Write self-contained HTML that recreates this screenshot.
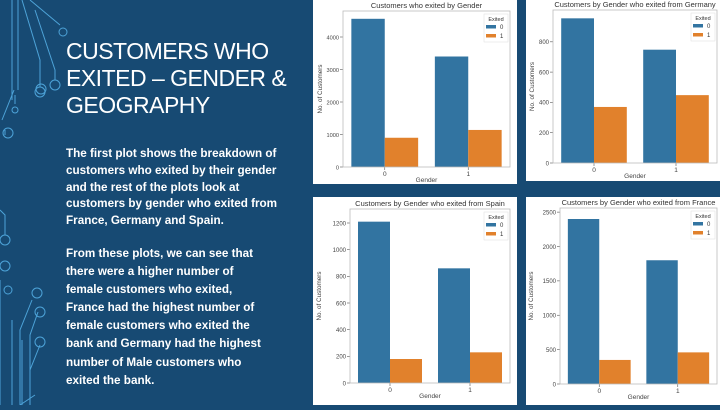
<!DOCTYPE html>
<html><head><meta charset="utf-8"><style>
body{margin:0;width:720px;height:405px;overflow:hidden;background:#174a73;font-family:"Liberation Sans",sans-serif;position:relative}
.title{position:absolute;left:66px;top:38px;color:#fff;font-size:23px;line-height:27px;white-space:nowrap;letter-spacing:-0.5px}
.body{position:absolute;left:66px;color:#fff;font-weight:bold;font-size:11.7px;white-space:nowrap}
.panel{position:absolute;background:#fff}
svg text{font-family:"Liberation Sans",sans-serif}
</style></head><body>
<svg width="70" height="405" style="position:absolute;left:0;top:0" fill="none" stroke="#4da3d8" stroke-width="1">
<path d="M12 0V100M18 0V90M22 0 L40 60 L40 87M30 0 L60 25M35 10 L55 70 L55 80M14 90 L2 120M15 95 V104M5 130 V135"/>
<circle cx="63" cy="32" r="4"/><circle cx="40" cy="92" r="5"/><circle cx="41" cy="89" r="5"/><circle cx="55" cy="85" r="5"/><circle cx="15" cy="110" r="3"/><circle cx="8" cy="133" r="5"/>
<path d="M0 210 L5 215 V235"/><circle cx="5" cy="240" r="5"/><circle cx="5" cy="266" r="5"/>
<path d="M0 280 V405M12 320 V405M22 340 V405M32 300 L20 330 V405M38 312 L30 335 V405M40 345 L30 370 V405M35 395 L20 405"/>
<circle cx="37" cy="293" r="5"/><circle cx="40" cy="312" r="5"/><circle cx="40" cy="342" r="5"/><circle cx="8" cy="290" r="4"/>
</svg>
<div class="title">CUSTOMERS WHO<br>EXITED – GENDER &amp;<br>GEOGRAPHY</div>
<div class="body" style="top:146px;line-height:16.8px">The first plot shows the breakdown of<br>customers who exited by their gender<br>and the rest of the plots look at<br>customers by gender who exited from<br>France, Germany and Spain.</div>
<div class="body" style="top:245px;line-height:18.1px">From these plots, we can see that<br>there were a higher number of<br>female customers who exited,<br>France had the highest number of<br>female customers who exited the<br>bank and Germany had the highest<br>number of Male customers who<br>exited the bank.</div>

<div id="p1" class="panel" style="left:313px;top:0;width:204px;height:184px"></div>
<div id="p2" class="panel" style="left:526px;top:0;width:194px;height:181px"></div>
<div id="p3" class="panel" style="left:313px;top:197px;width:204px;height:208px"></div>
<div id="p4" class="panel" style="left:526px;top:197px;width:194px;height:208px"></div>

<script>
const categories = ["0", "1"];
const genderStayed = [4560, 3400];
const genderExited = [900, 1140];
const genderTicks = [0, 1000, 2000, 3000, 4000];
const germanyStayed = [955, 748];
const germanyExited = [370, 448];
const germanyTicks = [0, 200, 400, 600, 800];
const spainStayed = [1210, 860];
const spainExited = [180, 230];
const spainTicks = [0, 200, 400, 600, 800, 1000, 1200];
const franceStayed = [2400, 1800];
const franceExited = [350, 460];
const franceTicks = [0, 500, 1000, 1500, 2000, 2500];

const NS = "http://www.w3.org/2000/svg";
function mk(tag, attrs, parent){const e=document.createElementNS(NS,tag);for(const k in attrs)e.setAttribute(k,attrs[k]);parent.appendChild(e);return e;}

function chart(id, title, stayed, exited, ticks, ymax, L, R, T, B, W, H, YT, TF){
  const host=document.getElementById(id);
  const svg=mk("svg",{width:W,height:H},host);
  const y=v=>B-(v/ymax)*(B-T);
  const x=v=>L+(v+0.5)/2*(R-L);
  const t=mk("text",{x:(L+R)/2,y:T-3,"text-anchor":"middle","font-size":7.5,fill:"#333"},svg);
  t.textContent=title;
  
  
  ticks.forEach(v=>{
    mk("line",{x1:L-3,x2:L,y1:y(v),y2:y(v),stroke:"#555","stroke-width":0.6},svg);
    const tl=mk("text",{x:L-4,y:y(v)+2.3,"text-anchor":"end","font-size":TF,fill:"#444"},svg);
    tl.textContent=v;
    
    
  });
  categories.forEach((c,i)=>{
    const cx=x(i), bw=(x(0.4)-x(0));
    const b1=mk("rect",{x:cx-bw,y:y(stayed[i]),width:bw,height:B-y(stayed[i]),fill:"#3274a1"},svg);
    
    
    const b2=mk("rect",{x:cx,y:y(exited[i]),width:bw,height:B-y(exited[i]),fill:"#e1812c"},svg);
    
    
    mk("line",{x1:cx,x2:cx,y1:B,y2:B+3,stroke:"#555","stroke-width":0.6},svg);
    const xl=mk("text",{x:cx,y:B+9,"text-anchor":"middle","font-size":6.5,fill:"#444"},svg);
    xl.textContent=c;
    
    
  });
  mk("rect",{x:L,y:T,width:R-L,height:B-T,fill:"none",stroke:"#bbb","stroke-width":0.8},svg);
  const xt=mk("text",{x:(L+R)/2,y:B+15,"text-anchor":"middle","font-size":6.5,fill:"#444"},svg);
  xt.textContent="Gender";
  
  
  const yt=mk("text",{x:0,y:0,"text-anchor":"middle","font-size":6.3,fill:"#444",transform:`translate(${YT},${(T+B)/2}) rotate(-90)`},svg);
  yt.textContent="No. of Customers";
  
  
  const g=mk("g",{transform:`translate(${R-26},${T+3})`},svg);
  
  
  mk("rect",{x:0,y:0,width:24,height:28,fill:"#fff",stroke:"#ddd","stroke-width":0.5},g);
  mk("text",{x:12,y:7,"text-anchor":"middle","font-size":5.5,fill:"#333"},g).textContent="Exited";
  mk("rect",{x:2,y:11,width:10,height:3.5,fill:"#3274a1"},g);
  mk("text",{x:16,y:15,"font-size":6,fill:"#333"},g).textContent="0";
  mk("rect",{x:2,y:20,width:10,height:3.5,fill:"#e1812c"},g);
  mk("text",{x:16,y:24,"font-size":6,fill:"#333"},g).textContent="1";
}
chart("p1","Customers who exited by Gender",genderStayed,genderExited,genderTicks,4800,30,197,11,167,204,184,9,5.6);
chart("p2","Customers by Gender who exited from Germany",germanyStayed,germanyExited,germanyTicks,1010,27,191,10,163,194,181,8,6);
chart("p3","Customers by Gender who exited from Spain",spainStayed,spainExited,spainTicks,1305,37,197,12,186,204,208,8,6);
chart("p4","Customers by Gender who exited from France",franceStayed,franceExited,franceTicks,2560,34,191,11,187,194,208,7,6);
</script>
</body></html>
